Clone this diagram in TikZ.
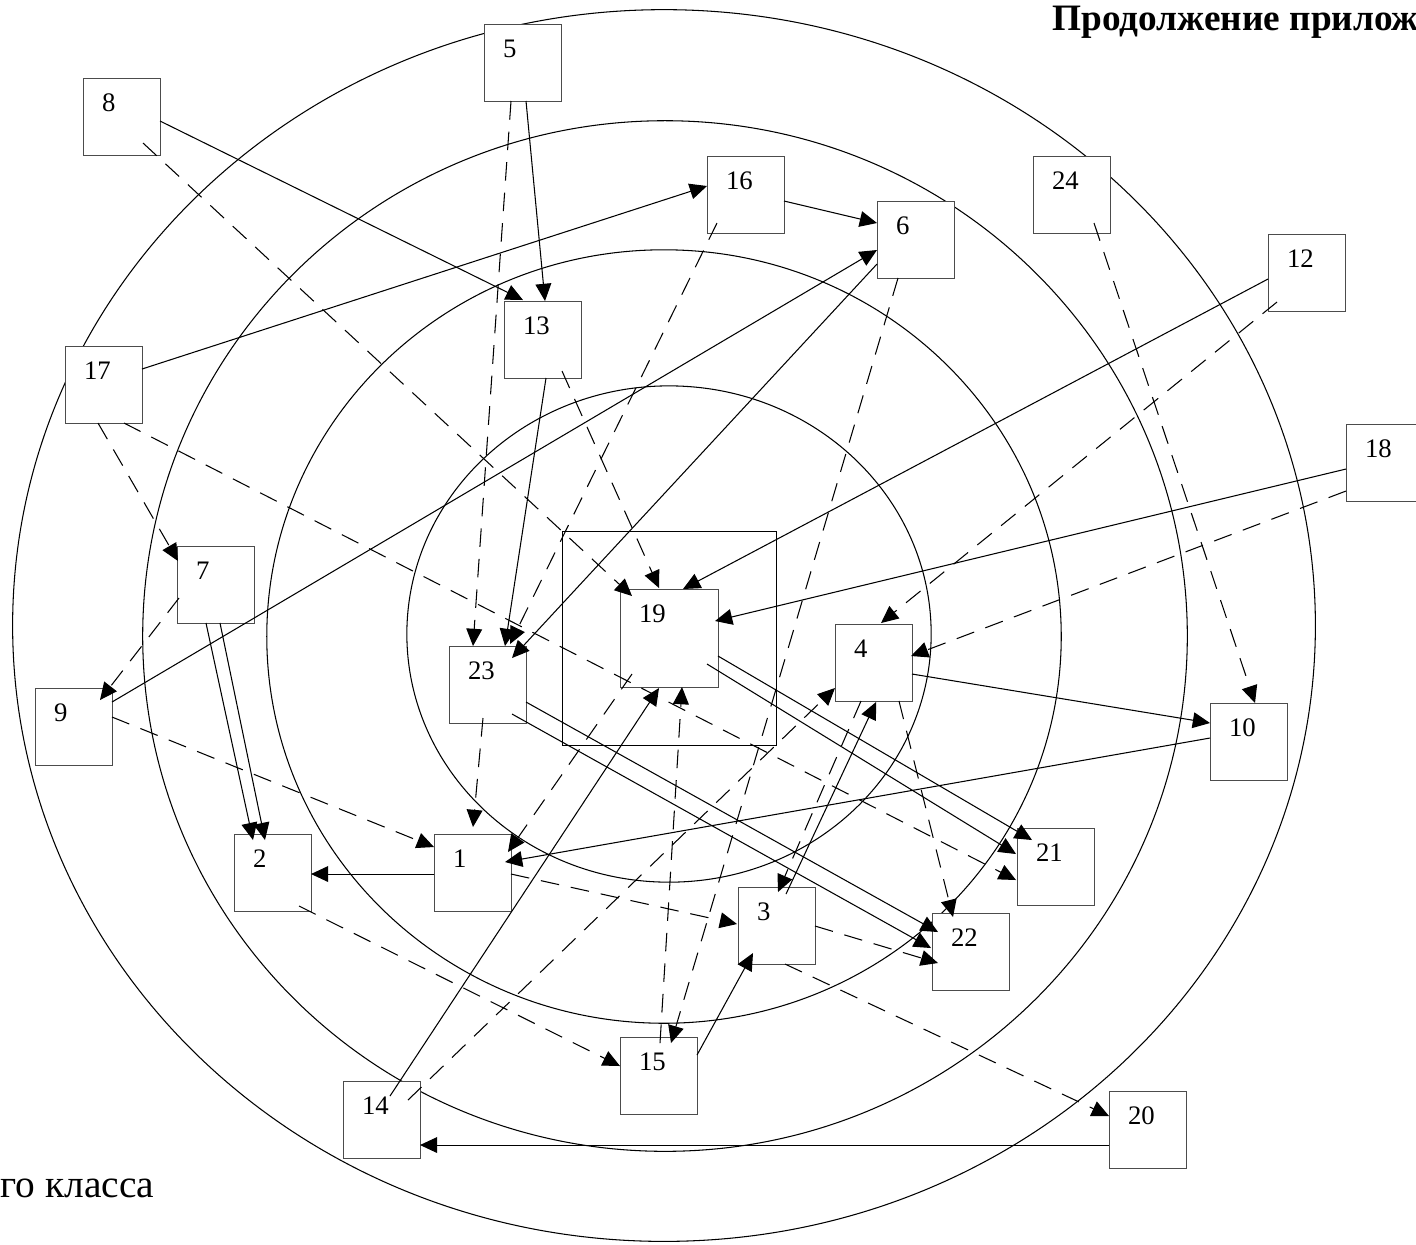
\documentclass[tikz,border=0pt]{standalone}
\usepackage{fontspec}
\setmainfont{Liberation Serif}
\usetikzlibrary{arrows.meta}
\begin{document}
\begin{tikzpicture}[x=0.01cm,y=-0.01cm,line width=0.3pt]
\tikzstyle{every node}+=[inner sep=0pt]
\tikzstyle{box}=[draw=black!70,fill=white,anchor=north west,minimum size=0.77cm]
\tikzstyle{num}=[anchor=base west,xshift=0.185cm,yshift=-0.33cm,font=\fontsize{7.6}{9}\selectfont]
\tikzstyle{link}=[-{Triangle[length=4.9pt,width=4.5pt]}]
\tikzstyle{dlink}=[link,dash pattern=on 5.3pt off 3.4pt]
\useasboundingbox (0,0) rectangle (1416,1244);
\draw (669,634) ellipse [x radius=2.62cm,y radius=2.48cm];
\draw (664,636.5) ellipse [x radius=3.97cm,y radius=3.865cm];
\draw (665,636) ellipse [x radius=5.22cm,y radius=5.15cm];
\draw (664,625.5) ellipse [x radius=6.51cm,y radius=6.155cm];
\node[draw,anchor=north west,minimum size=2.14cm] (hub) at (562,531) {};
\node[box,label={[num]north west:1}] (b1) at (434,834) {};
\node[box,label={[num]north west:2}] (b2) at (234,834) {};
\node[box,label={[num]north west:3}] (b3) at (738,887) {};
\node[box,label={[num]north west:4}] (b4) at (835,624) {};
\node[box,label={[num]north west:5}] (b5) at (484,24) {};
\node[box,label={[num]north west:6}] (b6) at (877,201) {};
\node[box,label={[num]north west:7}] (b7) at (177,546) {};
\node[box,label={[num]north west:8}] (b8) at (83,78) {};
\node[box,label={[num]north west:9}] (b9) at (35,688) {};
\node[box,label={[num]north west:10}] (b10) at (1210,703) {};
\node[box,label={[num]north west:12}] (b12) at (1268,234) {};
\node[box,label={[num]north west:13}] (b13) at (504,301) {};
\node[box,label={[num]north west:14}] (b14) at (343,1081) {};
\node[box,label={[num]north west:15}] (b15) at (620,1037) {};
\node[box,label={[num]north west:16}] (b16) at (707,156) {};
\node[box,label={[num]north west:17}] (b17) at (65,346) {};
\node[box,label={[num]north west:18}] (b18) at (1346,424) {};
\node[box,minimum size=0.98cm,label={[num]north west:19}] (b19) at (620,589) {};
\node[box,label={[num]north west:20}] (b20) at (1109,1091) {};
\node[box,label={[num]north west:21}] (b21) at (1017,828) {};
\node[box,label={[num]north west:22}] (b22) at (932,913) {};
\node[box,label={[num]north west:23}] (b23) at (449,646) {};
\node[box,label={[num]north west:24}] (b24) at (1033,156) {};
\node[anchor=base west,font=\bfseries\fontsize{10.6}{12}\selectfont] (title) at (1052,30) {Продолжение прилож};
\node[anchor=base west,font=\fontsize{11.2}{13}\selectfont] (caption) at (0,1197) {го класса};
\draw[link] ([shift={(42,77)}]b5.north west) -- ([shift={(41,0)}]b13.north west);
\draw[dlink] ([shift={(27,77)}]b5.north west) -- ([shift={(24,0)}]b23.north west);
\draw[link] ([shift={(77,43)}]b8.north west) -- ([shift={(19,-1)}]b13.north west);
\draw[dlink] ([shift={(60,65)}]b8.north west) -- ([shift={(12,7)}]b19.north west);
\draw[link] ([shift={(77,23)}]b17.north west) -- ([shift={(0,30)}]b16.north west);
\draw[link] ([shift={(77,45)}]b16.north west) -- ([shift={(0,22)}]b6.north west);
\draw[dlink] ([shift={(10,67)}]b16.north west) -- ([shift={(61,-2)}]b23.north west);
\draw[link] ([shift={(42,77)}]b13.north west) -- ([shift={(56,0)}]b23.north west);
\draw[link] ([shift={(0,63)}]b6.north west) -- ([shift={(63,12)}]b23.north west);
\draw[link] ([shift={(77,14)}]b9.north west) -- ([shift={(0,49)}]b6.north west);
\draw[dlink] ([shift={(21,77)}]b6.north west) -- ([shift={(51,6)}]b15.north west);
\draw[dlink] ([shift={(40,6)}]b15.north west) -- ([shift={(62,98)}]b19.north west);
\draw[dlink] ([shift={(61,67)}]b24.north west) -- ([shift={(45,0)}]b10.north west);
\draw[link] ([shift={(0,45)}]b12.north west) -- ([shift={(63,0)}]b19.north west);
\draw[dlink] ([shift={(9,68)}]b12.north west) -- ([shift={(46,-1)}]b4.north west);
\draw[link] ([shift={(0,45)}]b18.north west) -- ([shift={(95,32)}]b19.north west);
\draw[dlink] ([shift={(0,67)}]b18.north west) -- ([shift={(76,32)}]b4.north west);
\draw[dlink] ([shift={(58,70)}]b13.north west) -- ([shift={(39,-1)}]b19.north west);
\draw[dlink] ([shift={(33,77)}]b17.north west) -- ([shift={(1,15)}]b7.north west);
\draw[dlink] ([shift={(59,77)}]b17.north west) -- ([shift={(-1,52)}]b21.north west);
\draw[link] ([shift={(29,77)}]b7.north west) -- ([shift={(19,6)}]b2.north west);
\draw[link] ([shift={(43,77)}]b7.north west) -- ([shift={(31,6)}]b2.north west);
\draw[dlink] ([shift={(2,52)}]b7.north west) -- ([shift={(65,12)}]b9.north west);
\draw[dlink] ([shift={(77,29)}]b9.north west) -- ([shift={(0,13)}]b1.north west);
\draw[dlink] ([shift={(34,72)}]b23.north west) -- ([shift={(39,-7)}]b1.north west);
\draw[link] ([shift={(77,56)}]b23.north west) -- ([shift={(6,19)}]b22.north west);
\draw[link] ([shift={(63,68)}]b23.north west) -- ([shift={(-1,35)}]b22.north west);
\draw[link] ([shift={(98,67)}]b19.north west) -- ([shift={(15,12)}]b21.north west);
\draw[link] ([shift={(87,75)}]b19.north west) -- ([shift={(-1,26)}]b21.north west);
\draw[link] ([shift={(47,15)}]b14.north west) -- ([shift={(39,99)}]b19.north west);
\draw[dlink] ([shift={(65,19)}]b14.north west) -- ([shift={(0,64)}]b4.north west);
\draw[dlink] ([shift={(12,85)}]b19.north west) -- ([shift={(74,18)}]b1.north west);
\draw[link] ([shift={(0,35)}]b10.north west) -- ([shift={(71,28)}]b1.north west);
\draw[link] ([shift={(77,50)}]b4.north west) -- ([shift={(0,20)}]b10.north west);
\draw[dlink] ([shift={(64,77)}]b4.north west) -- ([shift={(21,4)}]b22.north west);
\draw[link] ([shift={(48,7)}]b3.north west) -- ([shift={(41,78)}]b4.north west);
\draw[dlink] ([shift={(26,77)}]b4.north west) -- ([shift={(40,5)}]b3.north west);
\draw[dlink] ([shift={(77,40)}]b1.north west) -- ([shift={(-1,37)}]b3.north west);
\draw[link] ([shift={(0,40)}]b1.north west) -- ([shift={(77,40)}]b2.north west);
\draw[dlink] ([shift={(65,72)}]b2.north west) -- ([shift={(0,29)}]b15.north west);
\draw[link] ([shift={(77,18)}]b15.north west) -- ([shift={(15,66)}]b3.north west);
\draw[dlink] ([shift={(77,39)}]b3.north west) -- ([shift={(6,50)}]b22.north west);
\draw[dlink] ([shift={(47,77)}]b3.north west) -- ([shift={(0,25)}]b20.north west);
\draw[link] ([shift={(0,54)}]b20.north west) -- ([shift={(77,64)}]b14.north west);
\end{tikzpicture}
\end{document}
